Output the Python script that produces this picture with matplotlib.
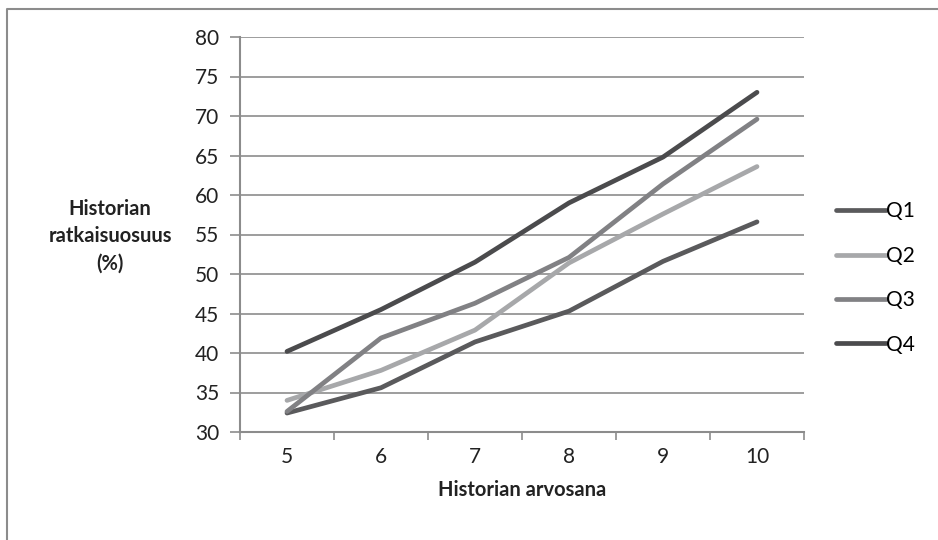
import matplotlib.pyplot as plt
from matplotlib.lines import Line2D

plt.rcParams['font.family'] = ['Lato', 'DejaVu Sans']

grades = ['5', '6', '7', '8', '9', '10']
q1 = [32.4, 35.6, 41.4, 45.3, 51.6, 56.6]
q2 = [34.0, 37.8, 42.9, 51.4, 57.6, 63.6]
q3 = [32.6, 41.9, 46.3, 52.1, 61.4, 69.6]
q4 = [40.2, 45.5, 51.5, 59.0, 64.8, 73.0]
series = ['Q1', 'Q2', 'Q3', 'Q4']
colors = ['#5a5a5c', '#a7a8aa', '#818184', '#4b4b4d']

W, H = 938, 540
fig = plt.figure(figsize=(W / 100, H / 100), dpi=100)
ax = fig.add_axes([240 / W, 1 - 432 / H, (804 - 240) / W, (432 - 37) / H])

# outer chart frame (left and top edges visible)
fig.add_artist(Line2D([7 / W, 7 / W, 1.0], [0.0, 1 - 9 / H, 1 - 9 / H],
                      transform=fig.transFigure, color='#8c8c8c', lw=1.5))

x = list(range(len(grades)))
for name, vals, c in zip(series, [q1, q2, q3, q4], colors):
    ax.plot(x, vals, color=c, lw=3.4, solid_capstyle='round',
            solid_joinstyle='round', label=name)

ax.set_xlim(-0.5, len(grades) - 0.5)
ax.set_ylim(30, 80)
ax.set_yticks(range(30, 81, 5))
ax.set_xticks(x)
ax.set_xticklabels(grades)
ax.set_xticks([i - 0.5 for i in range(len(grades) + 1)], minor=True)
ax.tick_params(axis='x', which='major', length=0, labelsize=15, pad=11, colors='#222222')
ax.tick_params(axis='x', which='minor', length=6, width=1.2, color='#8c8c8c', direction='out')
ax.tick_params(axis='y', length=7, width=1.2, color='#8c8c8c', labelsize=15, pad=8,
               labelcolor='#222222')
ax.yaxis.grid(True, color='#8c8c8c', lw=1.2)
ax.set_axisbelow(True)
for s in ['top', 'right']:
    ax.spines[s].set_visible(False)
for s in ['left', 'bottom']:
    ax.spines[s].set_color('#8c8c8c')
    ax.spines[s].set_linewidth(1.5)

ax.set_xlabel('Historian arvosana', fontsize=14.5, fontweight='bold', labelpad=9, color='#222222')
fig.text(110 / W, 1 - 236 / H, 'Historian\nratkaisuosuus\n(%)', ha='center', va='center',
         fontsize=14.5, fontweight='bold', color='#222222', linespacing=1.45)

fig.legend(loc='center left', bbox_to_anchor=(836 / W, 1 - 278 / H), frameon=False,
           fontsize=15, handlelength=2.4, handletextpad=0.0, labelspacing=1.17,
           borderaxespad=0, borderpad=0)

fig.savefig('out.png', dpi=100)
